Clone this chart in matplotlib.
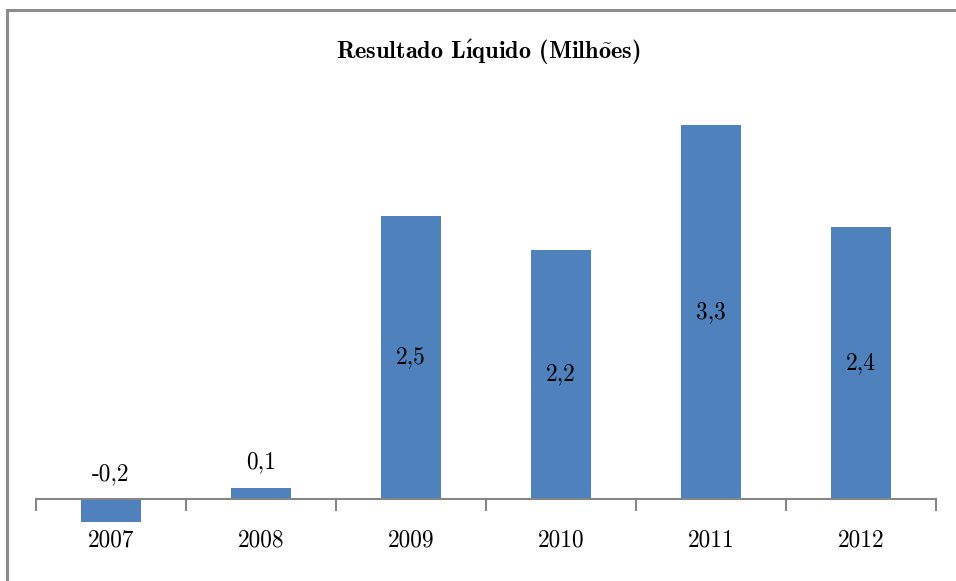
import matplotlib.pyplot as plt
from matplotlib.patches import Rectangle

anos = ["2007", "2008", "2009", "2010", "2011", "2012"]
resultado = [-0.2, 0.1, 2.5, 2.2, 3.3, 2.4]
rotulos = ["-0,2", "0,1", "2,5", "2,2", "3,3", "2,4"]

plt.rcParams["font.family"] = ["cmr10", "DejaVu Serif"]
plt.rcParams["mathtext.fontset"] = "cm"
plt.rcParams["axes.unicode_minus"] = False

W, H = 956, 581
fig = plt.figure(figsize=(W / 100, H / 100), dpi=100)

# moldura externa do gráfico
fig.patches.append(Rectangle((7 / W, -0.1), 2, (H - 10) / H + 0.1,
                             transform=fig.transFigure, fill=False,
                             edgecolor="#8c8c8c", linewidth=2.2))

# área de plotagem: eixo x em y=499 px, 150 px por categoria
escala = 113.2
y0 = 499
ymin, ymax = -0.5, 3.6
bottom = y0 + (-ymin) * escala
top = y0 - ymax * escala
ax = fig.add_axes([36 / W, 1 - bottom / H, 900 / W, (bottom - top) / H])

x = range(len(anos))
ax.bar(x, resultado, width=0.4, color="#4f81bd", zorder=2)
ax.set_xlim(-0.5, len(anos) - 0.5)
ax.set_ylim(ymin, ymax)

for s in ["top", "right", "left", "bottom"]:
    ax.spines[s].set_visible(False)
ax.axhline(0, color="#868686", linewidth=1.5, zorder=3)
ax.set_yticks([])
ax.set_xticks([])

# marcas entre categorias
for i in range(len(anos) + 1):
    ax.plot([i - 0.5, i - 0.5], [0, -11 / escala], color="#868686",
            linewidth=1.5, clip_on=False, zorder=3)

for i, ano in enumerate(anos):
    ax.text(i, -41 / escala, ano, ha="center", va="center", fontsize=16.8)

for i, (v, r) in enumerate(zip(resultado, rotulos)):
    if v > 1:
        yv = v / 2
    else:
        yv = max(v, 0) + 25 / escala
    ax.text(i, yv, r, ha="center", va="center", fontsize=16.8)

# no cmb10 (codificação BaKoMa) o i sem ponto fica na posição 0xB3
i_sem_ponto = "\u00b3"
titulo = ("Resultado L$\\mathbf{\\acute{" + i_sem_ponto + "}}$quido "
          "(Milh$\\mathbf{\\tilde{o}}$es)")
fig.text(488 / W, 1 - 52 / H, titulo, ha="center", va="center",
         fontsize=17.5, family="cmb10")

fig.savefig("out.png", dpi=100)
